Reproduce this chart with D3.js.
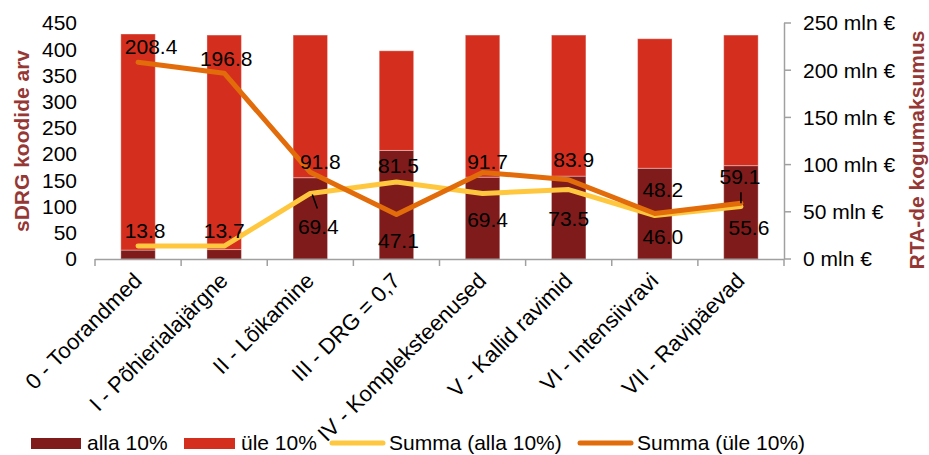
<!DOCTYPE html>
<html><head><meta charset="utf-8">
<script src="https://cdn.jsdelivr.net/npm/d3@7"></script>
<style>body{margin:0;background:#fff}svg{display:block;font-family:"Liberation Sans",Arial,sans-serif}</style>
</head><body><svg id="c" width="929" height="455"></svg>
<script>
const categories = ["0 - Toorandmed","I - Põhierialajärgne","II - Lõikamine","III - DRG = 0,7","IV - Kompleksteenused","V - Kallid ravimid","VI - Intensiivravi","VII - Ravipäevad"];
const countBelow = [17, 18, 155, 207, 156, 158, 173, 178];
const countAbove = [412, 409, 272, 190, 271, 269, 247, 249];
const sumBelow = [13.8, 13.7, 69.4, 81.5, 69.4, 73.5, 46.0, 55.6];
const sumAbove = [208.4, 196.8, 91.8, 47.1, 91.7, 83.9, 48.2, 59.1];
const leftTicks = [0,50,100,150,200,250,300,350,400,450];
const rightTicks = [0,50,100,150,200,250];
const seriesNames = ["alla 10%","üle 10%","Summa (alla 10%)","Summa (üle 10%)"];

// layout-only label nudges [dx, dy] relative to point
const belowLabelPos = [[7,-15],[0,-15],[8,33],[2,-16],[5,26],[0,29],[8,21],[8,21]];
const aboveLabelPos = [[13,-16],[2,-15],[10,-11],[2,26],[5,-11],[5,-20],[8,-24],[-1,-27]];

const C = {dark:"#7F1B1B", red:"#D42E1E", yellow:"#FEC73E", orange:"#E26B0A", title:"#953735", axis:"#A0A0A0"};
const svg = d3.select("#c");
const FS = 21;

const x = d3.scaleBand().domain(categories).range([95,784]).paddingInner(0.6).paddingOuter(0.3);
const step = x.step();
const cx = d => x(d) + x.bandwidth()/2;
const yL = d3.scaleLinear().domain([0,450]).range([259,23]);
const yR = d3.scaleLinear().domain([0,250]).range([259,23]);

// bars
const g = svg.append("g");
categories.forEach((c,i)=>{
  g.append("rect").attr("x",x(c)).attr("width",x.bandwidth())
    .attr("y",yL(countBelow[i])).attr("height",yL(0)-yL(countBelow[i])).attr("fill",C.dark)
    .attr("stroke","#fff").attr("stroke-opacity",0.35).attr("stroke-width",1);
  g.append("rect").attr("x",x(c)).attr("width",x.bandwidth())
    .attr("y",yL(countBelow[i]+countAbove[i])).attr("height",yL(countBelow[i])-yL(countBelow[i]+countAbove[i])).attr("fill",C.red)
    .attr("stroke","#fff").attr("stroke-opacity",0.35).attr("stroke-width",1);
});

// x axis
const xa = svg.append("g");
xa.append("line").attr("x1",95).attr("x2",784).attr("y1",259.5).attr("y2",259.5).attr("stroke",C.axis).attr("stroke-width",1.5);
d3.range(categories.length+1).forEach(i=>{
  const xx = 95 + i*step;
  xa.append("line").attr("x1",xx).attr("x2",xx).attr("y1",259).attr("y2",266).attr("stroke",C.axis).attr("stroke-width",1.5);
});
categories.forEach(c=>{
  xa.append("text").attr("transform",`translate(${cx(c)+5},${282}) rotate(-45)`)
    .attr("text-anchor","end").attr("font-size",22).attr("fill","#000").text(c);
});

// left axis labels
leftTicks.forEach(t=>{
  svg.append("text").attr("x",77).attr("y",yL(t)).attr("dy","0.35em").attr("text-anchor","end")
    .attr("font-size",FS).text(t);
});
// right axis
const ra = svg.append("g");
ra.append("line").attr("x1",784.5).attr("x2",784.5).attr("y1",yR(250)).attr("y2",yR(0)).attr("stroke",C.axis).attr("stroke-width",1.5);
rightTicks.forEach(t=>{
  ra.append("line").attr("x1",784).attr("x2",791).attr("y1",yR(t)).attr("y2",yR(t)).attr("stroke",C.axis).attr("stroke-width",1.5);
  ra.append("text").attr("x",803).attr("y",yR(t)).attr("dy","0.35em").attr("font-size",FS).text(t+" mln €");
});

// axis titles
svg.append("text").attr("transform","translate(29,141) rotate(-90)").attr("text-anchor","middle")
  .attr("font-size",21).attr("font-weight","bold").attr("fill",C.title).text("sDRG koodide arv");
svg.append("text").attr("transform","translate(924,150) rotate(-90)").attr("text-anchor","middle")
  .attr("font-size",21).attr("font-weight","bold").attr("fill",C.title).text("RTA-de kogumaksumus");

// lines
const line = d3.line().x((d,i)=>cx(categories[i])).y(d=>yR(d));
svg.append("path").datum(sumBelow).attr("d",line).attr("fill","none").attr("stroke",C.yellow).attr("stroke-width",5).attr("stroke-linejoin","round").attr("stroke-linecap","round");
svg.append("path").datum(sumAbove).attr("d",line).attr("fill","none").attr("stroke",C.orange).attr("stroke-width",5).attr("stroke-linejoin","round").attr("stroke-linecap","round");

// data labels
function labels(vals,pos){
  vals.forEach((v,i)=>{
    svg.append("text").attr("x",cx(categories[i])+pos[i][0]).attr("y",yR(v)+pos[i][1]).attr("dy","0.35em")
      .attr("text-anchor","middle").attr("font-size",FS).text(v.toFixed(1));
  });
}
labels(sumBelow,belowLabelPos);
labels(sumAbove,aboveLabelPos);
// leader lines
svg.append("line").attr("x1",cx(categories[2])+2).attr("y1",yR(sumBelow[2])+1).attr("x2",cx(categories[2])+7).attr("y2",yR(sumBelow[2])+15).attr("stroke","#000").attr("stroke-width",1.5);
svg.append("line").attr("x1",cx(categories[7])).attr("y1",yR(sumAbove[7])-11).attr("x2",cx(categories[7])).attr("y2",yR(sumAbove[7])).attr("stroke","#000").attr("stroke-width",1.5);

// legend
const lg = svg.append("g");
const ly = 443;
lg.append("rect").attr("x",31).attr("y",ly-5).attr("width",50).attr("height",11).attr("fill",C.dark);
lg.append("text").attr("x",87).attr("y",ly).attr("dy","0.35em").attr("font-size",FS).text(seriesNames[0]);
lg.append("rect").attr("x",184).attr("y",ly-5).attr("width",51).attr("height",11).attr("fill",C.red);
lg.append("text").attr("x",241).attr("y",ly).attr("dy","0.35em").attr("font-size",FS).text(seriesNames[1]);
lg.append("line").attr("x1",332).attr("x2",383).attr("y1",ly).attr("y2",ly).attr("stroke",C.yellow).attr("stroke-width",5).attr("stroke-linecap","round");
lg.append("text").attr("x",389).attr("y",ly).attr("dy","0.35em").attr("font-size",FS).text(seriesNames[2]);
lg.append("line").attr("x1",580).attr("x2",631).attr("y1",ly).attr("y2",ly).attr("stroke",C.orange).attr("stroke-width",5).attr("stroke-linecap","round");
lg.append("text").attr("x",637).attr("y",ly).attr("dy","0.35em").attr("font-size",FS).text(seriesNames[3]);
</script></body></html>
